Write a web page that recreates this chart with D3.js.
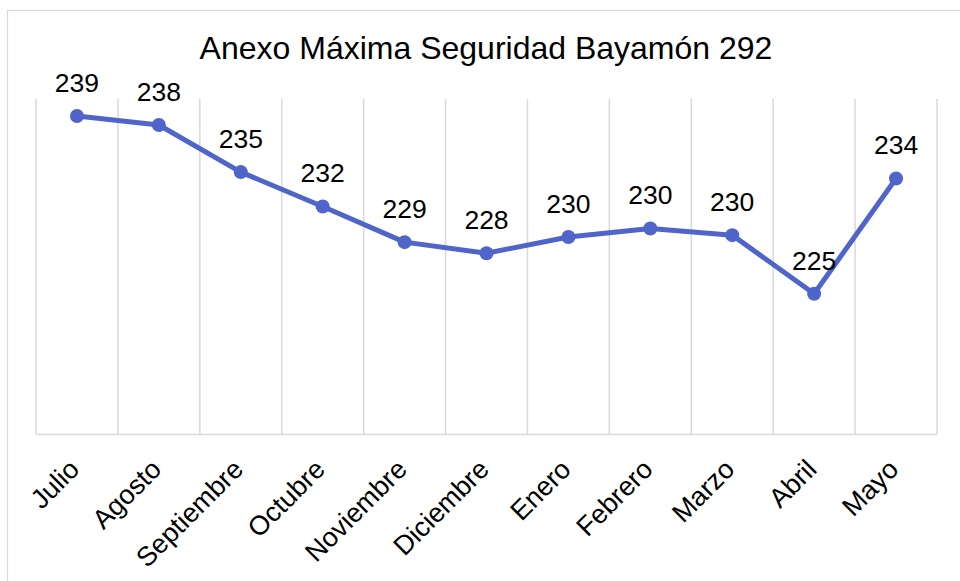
<!DOCTYPE html>
<html>
<head>
<meta charset="utf-8">
<script src="https://cdn.jsdelivr.net/npm/d3@7"></script>
<style>
  body { margin: 0; background: #fff; }
  svg { display: block; font-family: "Liberation Sans", Arial, sans-serif; }
</style>
</head>
<body>
<div id="chart"></div>
<script>
// months and the population count for each one
var months = ["Julio", "Agosto", "Septiembre", "Octubre", "Noviembre", "Diciembre",
              "Enero", "Febrero", "Marzo", "Abril", "Mayo"];
var poblacion = [239.06, 238.35, 234.64, 231.93, 229.12, 228.25, 229.52, 230.2, 229.67, 225.05, 234.14];
var yDomain = [214, 240.4];
var chartTitle = "Anexo Máxima Seguridad Bayamón 292";

var W = 960, H = 581;
var plot = {left: 36, right: 937, top: 99, bottom: 434};
var lineColor = "#4f65c9";
var gridColor = "#d9d9d9";

var svg = d3.select("#chart").append("svg")
    .attr("width", W)
    .attr("height", H);

// outer chart border (runs off the right/bottom edge)
svg.append("rect")
    .attr("x", 7.5).attr("y", 10.5)
    .attr("width", W).attr("height", H)
    .attr("fill", "#fff")
    .attr("stroke", gridColor)
    .attr("stroke-width", 1.2);

var x = d3.scaleBand()
    .domain(months)
    .range([plot.left, plot.right]);

var y = d3.scaleLinear()
    .domain(yDomain)
    .range([plot.bottom, plot.top]);

// vertical gridlines on the band edges
var edges = months.map(function (m) { return x(m); });
edges.push(plot.right);
svg.append("g").selectAll("line").data(edges)
    .enter().append("line")
    .attr("x1", function (d) { return d; })
    .attr("x2", function (d) { return d; })
    .attr("y1", plot.top)
    .attr("y2", plot.bottom)
    .attr("stroke", gridColor)
    .attr("stroke-width", 1.5);

// category axis
var xAxis = d3.axisBottom(x).tickSize(0).tickPadding(0);
var gx = svg.append("g")
    .attr("transform", "translate(0," + plot.bottom + ")")
    .call(xAxis);
gx.select(".domain").attr("stroke", gridColor).attr("stroke-width", 1.5);
gx.selectAll("text")
    .attr("font-size", 27)
    .attr("fill", "#000")
    .attr("text-anchor", "end")
    .attr("dy", null)
    .attr("y", 0)
    .attr("transform", "translate(4,37) rotate(-45)");

// line
var line = d3.line()
    .x(function (d, i) { return x(months[i]) + x.bandwidth() / 2; })
    .y(function (d) { return y(d); });

svg.append("path")
    .datum(poblacion)
    .attr("fill", "none")
    .attr("stroke", lineColor)
    .attr("stroke-width", 5)
    .attr("stroke-linejoin", "round")
    .attr("d", line);

svg.selectAll("circle.pt").data(poblacion)
    .enter().append("circle")
    .attr("class", "pt")
    .attr("cx", function (d, i) { return x(months[i]) + x.bandwidth() / 2; })
    .attr("cy", function (d) { return y(d); })
    .attr("r", 7)
    .attr("fill", lineColor);

// data labels
svg.selectAll("text.lbl").data(poblacion)
    .enter().append("text")
    .attr("class", "lbl")
    .attr("x", function (d, i) { return x(months[i]) + x.bandwidth() / 2; })
    .attr("y", function (d) { return y(d) - 24; })
    .attr("text-anchor", "middle")
    .attr("font-size", 26.5)
    .attr("fill", "#000")
    .text(function (d) { return d3.format(".0f")(d); });

svg.append("text")
    .attr("x", 486)
    .attr("y", 59)
    .attr("text-anchor", "middle")
    .attr("font-size", 32)
    .attr("fill", "#000")
    .text(chartTitle);
</script>
</body>
</html>
